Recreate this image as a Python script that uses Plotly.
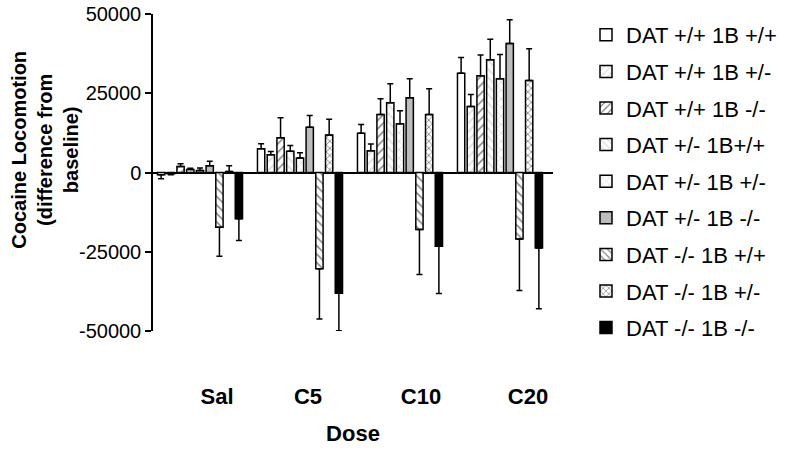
import plotly.graph_objects as go

doses = ["Sal", "C5", "C10", "C20"]
dose_pos = [0, 1, 2, 3]

series_names = [
    "DAT +/+ 1B +/+",
    "DAT +/+ 1B +/-",
    "DAT +/+ 1B -/-",
    "DAT +/- 1B+/+",
    "DAT +/- 1B +/-",
    "DAT +/- 1B -/-",
    "DAT -/- 1B +/+",
    "DAT -/- 1B +/-",
    "DAT -/- 1B -/-",
]

# mean values per series (Sal, C5, C10, C20)
s1_mean = [-700, 7500, 12400, 31300]
s2_mean = [-400, 5600, 6900, 20800]
s3_mean = [1900, 11000, 18300, 30500]
s4_mean = [950, 6700, 22000, 35600]
s5_mean = [600, 4600, 15400, 29600]
s6_mean = [2100, 14300, 23600, 40700]
s7_mean = [-17300, -30400, -18000, -21000]
s8_mean = [300, 11800, 18300, 29000]
s9_mean = [-14600, -38100, -23300, -23800]

# SEM per series (drawn away from zero)
s1_err = [1300, 1600, 2750, 5000]
s2_err = [300, 1050, 2100, 3800]
s3_err = [850, 6300, 4950, 6600]
s4_err = [400, 1800, 6000, 6400]
s5_err = [850, 1600, 4100, 7600]
s6_err = [1450, 3700, 6000, 7500]
s7_err = [9100, 15800, 14200, 16200]
s8_err = [1800, 5000, 8100, 10000]
s9_err = [6850, 11800, 14900, 19200]

means = [s1_mean, s2_mean, s3_mean, s4_mean, s5_mean, s6_mean, s7_mean, s8_mean, s9_mean]
errs = [s1_err, s2_err, s3_err, s4_err, s5_err, s6_err, s7_err, s8_err, s9_err]

y_ticks = [-50000, -25000, 0, 25000, 50000]

LG = "#b5b5b5"
styles = [
    dict(color="white", pattern=dict(shape="")),
    dict(color="white", pattern=dict(shape="/", fgcolor=LG, bgcolor="white", size=6, solidity=0.25)),
    dict(color="white", pattern=dict(shape="/", fgcolor="black", bgcolor="white", size=6, solidity=0.25)),
    dict(color="white", pattern=dict(shape="\\", fgcolor=LG, bgcolor="white", size=6, solidity=0.25)),
    dict(color="white", pattern=dict(shape="x", fgcolor=LG, bgcolor="white", size=6, solidity=0.25)),
    dict(color="#bdbdbd", pattern=dict(shape="")),
    dict(color="white", pattern=dict(shape="\\", fgcolor="black", bgcolor="white", size=6, solidity=0.25)),
    dict(color="white", pattern=dict(shape="x", fgcolor="black", bgcolor="white", size=5, solidity=0.3)),
    dict(color="black", pattern=dict(shape="")),
]

FONT = "Liberation Sans, Arial, sans-serif"

fig = go.Figure()
for i, name in enumerate(series_names):
    m = means[i]
    e = errs[i]
    up = [ev if mv >= 0 else 0 for mv, ev in zip(m, e)]
    dn = [ev if mv < 0 else 0 for mv, ev in zip(m, e)]
    fig.add_trace(go.Bar(
        x=dose_pos, y=m, name=name, legendgroup=f"g{i}",
        marker=dict(color=styles[i]["color"], pattern=styles[i]["pattern"],
                    line=dict(color="black", width=1.5)),
        error_y=dict(type="data", symmetric=False, array=up, arrayminus=dn,
                     color="black", thickness=1.5, width=3),
    ))

label_shift = [0.17, 0.08, 0.21, 0.28]

fig.update_layout(
    width=785, height=451,
    margin=dict(l=153, r=232, t=14, b=120, autoexpand=False),
    paper_bgcolor="white", plot_bgcolor="white",
    barmode="group", bargap=0.125, bargroupgap=0.25,
    font=dict(family=FONT, color="black"),
    xaxis=dict(
        range=[-0.47, 3.53], showgrid=False, zeroline=False, showline=False,
        tickmode="array", tickvals=[p + s for p, s in zip(dose_pos, label_shift)], ticktext=doses,
        ticks="", tickfont=dict(size=22, family=FONT, weight="bold"),
        ticklabelstandoff=50,
        title=dict(text="<b>Dose</b>", font=dict(size=22, family=FONT), standoff=17),
    ),
    yaxis=dict(
        range=[-50000, 50000], showgrid=False, showline=True, linecolor="black", linewidth=1.5,
        zeroline=True, zerolinecolor="black", zerolinewidth=2,
        tickmode="array", tickvals=y_ticks, ticktext=[str(v) for v in y_ticks],
        ticks="outside", ticklen=6, tickwidth=1.5, tickcolor="black",
        tickfont=dict(size=20, family=FONT), ticklabeloverflow="allow",
    ),
    legend=dict(
        xref="container", yref="container",
        x=586 / 785, xanchor="left", y=1 - 14 / 451, yanchor="top",
        font=dict(size=22, family=FONT), tracegroupgap=5, maxheight=445,
        traceorder="grouped", bgcolor="rgba(0,0,0,0)",
    ),
    showlegend=True,
    annotations=[dict(
        text="<b>Cocaine Locomotion<br>(difference from<br>baseline)</b>",
        xref="paper", yref="paper", x=-0.2707, y=0.571, xanchor="center", yanchor="middle",
        textangle=-90, showarrow=False, font=dict(size=20, family=FONT),
    )],
)

fig.write_html("out.html", config={"displayModeBar": False},
               post_script="document.body.style.margin='0px';")
